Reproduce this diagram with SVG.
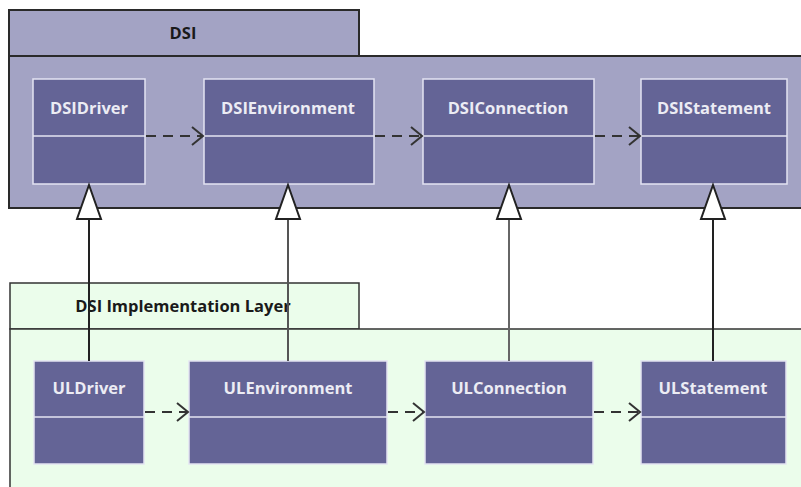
<svg xmlns="http://www.w3.org/2000/svg" width="801" height="487" viewBox="0 0 801 487">
<style>
.pkgA{fill:#a3a3c4;stroke:#2a2a2a;stroke-width:2}
.pkgB{fill:#ebfdeb;stroke:#333;stroke-width:1.5}
.cls{fill:#646496;stroke:#e4e4f2;stroke-width:1.5}
.div{stroke:#e4e4f2;stroke-width:1.5}
.ct{font-family:"Open Sans","Liberation Sans",sans-serif;font-weight:bold;font-size:16.5px;fill:#ececf4;text-anchor:middle}
.pt{font-family:"Open Sans","Liberation Sans",sans-serif;font-weight:bold;font-size:16.5px;fill:#1a1a1a;text-anchor:middle}
.dep{fill:none;stroke:#333;stroke-width:2;stroke-dasharray:10,7}
.gen{fill:none;stroke:#222;stroke-width:2}
.tri{fill:#fff;stroke:#222;stroke-width:2;stroke-linejoin:miter}
</style>
<defs>
<marker id="open" markerWidth="14" markerHeight="20" refX="12" refY="10" orient="auto" markerUnits="userSpaceOnUse">
<path d="M1,1 L12,10 L1,19" fill="none" stroke="#333" stroke-width="2"/>
</marker>
</defs>
<rect width="801" height="487" fill="#fff"/>
<g id="pkg-dsi">
<rect class="pkgA" x="9" y="10" width="350" height="46"/>
<rect class="pkgA" x="9" y="56" width="800" height="152"/>
<text class="pt" x="183" y="39">DSI</text>
</g>
<g id="pkg-impl">
<rect class="pkgB" x="10" y="283" width="349" height="46"/>
<rect class="pkgB" x="10" y="329" width="800" height="170"/>
<text class="pt" x="183" y="312">DSI Implementation Layer</text>
</g>
<g id="DSIDriver">
<rect class="cls" x="33" y="79" width="112" height="105"/>
<line class="div" x1="33" y1="136" x2="145" y2="136"/>
<text class="ct" x="89" y="114">DSIDriver</text>
</g>
<g id="DSIEnvironment">
<rect class="cls" x="204" y="79" width="170" height="105"/>
<line class="div" x1="204" y1="136" x2="374" y2="136"/>
<text class="ct" x="288" y="114">DSIEnvironment</text>
</g>
<g id="DSIConnection">
<rect class="cls" x="423" y="79" width="171" height="105"/>
<line class="div" x1="423" y1="136" x2="594" y2="136"/>
<text class="ct" x="508" y="114">DSIConnection</text>
</g>
<g id="DSIStatement">
<rect class="cls" x="641" y="79" width="146" height="105"/>
<line class="div" x1="641" y1="136" x2="787" y2="136"/>
<text class="ct" x="714" y="114">DSIStatement</text>
</g>
<g id="ULDriver">
<rect class="cls" x="34" y="361" width="110" height="103"/>
<line class="div" x1="34" y1="417" x2="144" y2="417"/>
<text class="ct" x="89" y="394">ULDriver</text>
</g>
<g id="ULEnvironment">
<rect class="cls" x="189" y="361" width="198" height="103"/>
<line class="div" x1="189" y1="417" x2="387" y2="417"/>
<text class="ct" x="288" y="394">ULEnvironment</text>
</g>
<g id="ULConnection">
<rect class="cls" x="425" y="361" width="168" height="103"/>
<line class="div" x1="425" y1="417" x2="593" y2="417"/>
<text class="ct" x="509" y="394">ULConnection</text>
</g>
<g id="ULStatement">
<rect class="cls" x="641" y="361" width="145" height="103"/>
<line class="div" x1="641" y1="417" x2="786" y2="417"/>
<text class="ct" x="713" y="394">ULStatement</text>
</g>
<g id="connectors">
<line class="dep" x1="146" y1="136" x2="203" y2="136" marker-end="url(#open)"/>
<line class="dep" x1="375" y1="136" x2="422" y2="136" marker-end="url(#open)"/>
<line class="dep" x1="595" y1="136" x2="640" y2="136" marker-end="url(#open)"/>
<line class="dep" x1="145" y1="412" x2="188" y2="412" marker-end="url(#open)"/>
<line class="dep" x1="388" y1="412" x2="424" y2="412" marker-end="url(#open)"/>
<line class="dep" x1="594" y1="412" x2="640" y2="412" marker-end="url(#open)"/>
<line class="gen" x1="89" y1="361" x2="89" y2="219"/>
<path class="tri" d="M89,185 L101,219 L77,219 Z"/>
<line class="gen" x1="288" y1="361" x2="288" y2="219" style="stroke:#555"/>
<path class="tri" d="M288,185 L300,219 L276,219 Z"/>
<line class="gen" x1="509" y1="361" x2="509" y2="219" style="stroke:#666"/>
<path class="tri" d="M509,185 L521,219 L497,219 Z"/>
<line class="gen" x1="713" y1="361" x2="713" y2="219"/>
<path class="tri" d="M713,185 L725,219 L701,219 Z"/>
</g>
</svg>
